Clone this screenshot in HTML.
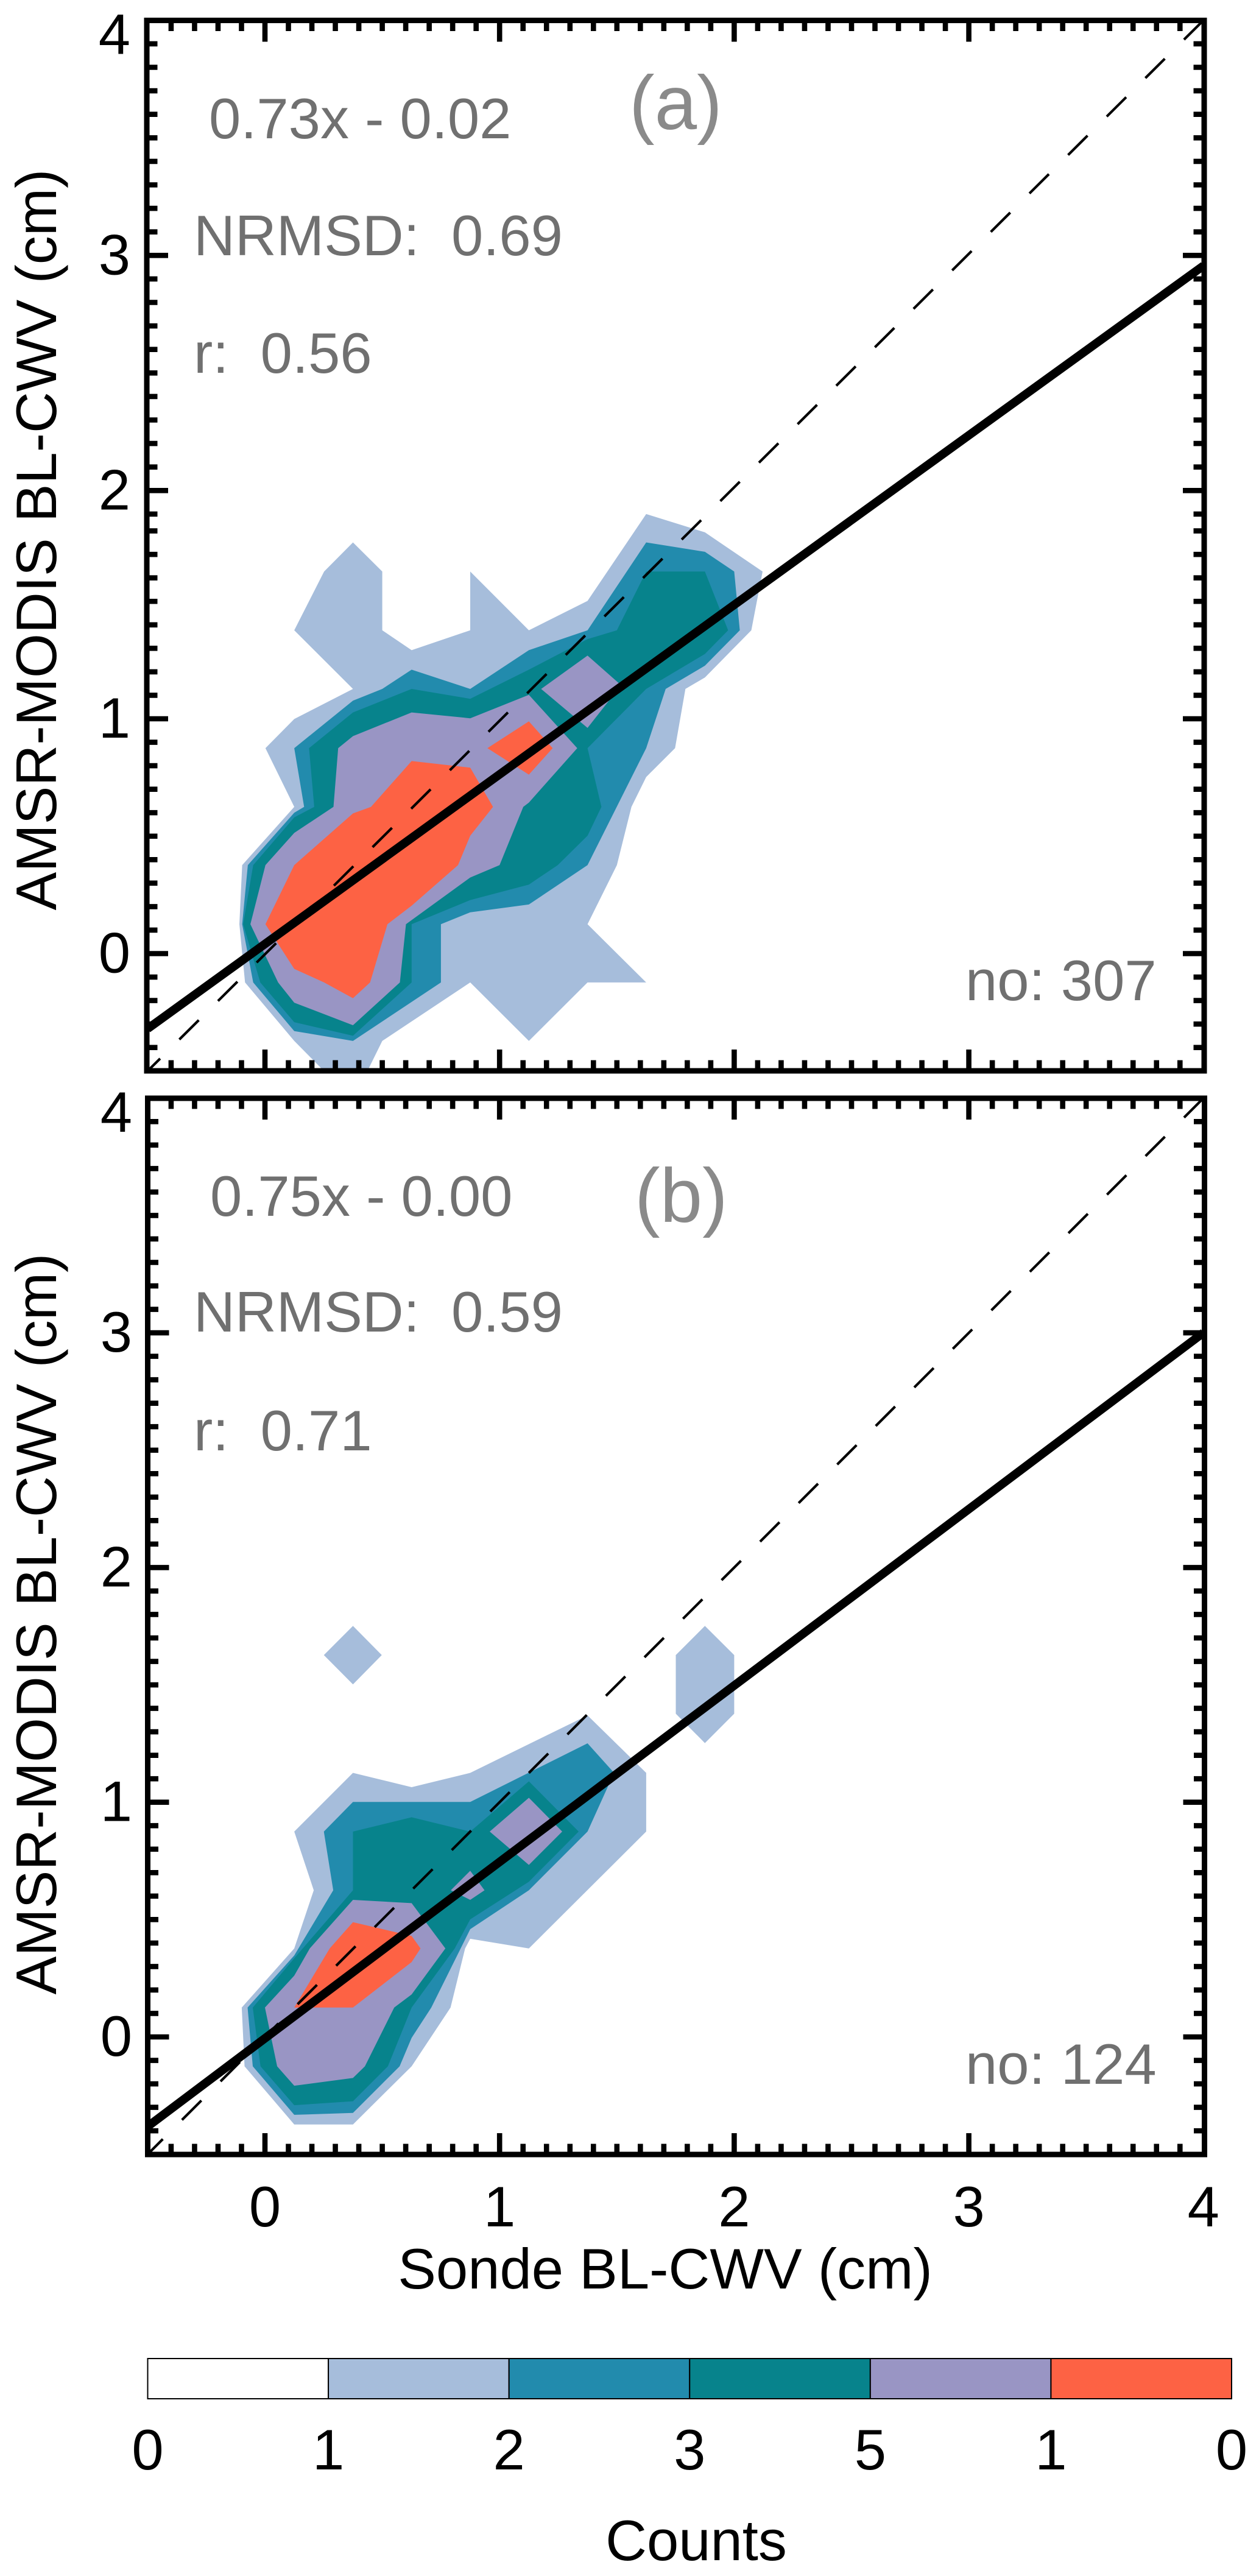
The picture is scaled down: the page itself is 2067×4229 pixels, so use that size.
<!DOCTYPE html>
<html lang="en">
<head>
<meta charset="utf-8">
<title>AMSR-MODIS vs Sonde BL-CWV</title>
<style>
html,body{margin:0;padding:0;background:#fff;}
svg{display:block;font-family:"Liberation Sans",Arial,sans-serif;}
.stat{fill:#707070;font-size:94px;white-space:pre;}
.letter{fill:#8a8a8a;font-size:125px;}
.axis-title{fill:#000;font-size:94px;}
</style>
</head>
<body>
<svg id="figure" xmlns="http://www.w3.org/2000/svg" width="2067" height="4229" viewBox="0 0 2067 4229">
  <rect x="0" y="0" width="2067" height="4229" fill="#ffffff"/>
  <defs>
    <clipPath id="clip-a"><rect x="241" y="33.5" width="1736" height="1724.5"/></clipPath>
    <clipPath id="clip-b"><rect x="242.5" y="1803" width="1735" height="1734"/></clipPath>
  </defs>
  <g id="panel-a"></g>
  <g id="panel-b"></g>

  <text class="stat" x="343" y="227">0.73x - 0.02</text>
  <text class="stat" x="318" y="419">NRMSD:  0.69</text>
  <text class="stat" x="318" y="612">r:  0.56</text>
  <text class="letter" x="1033" y="212">(a)</text>
  <text class="stat" x="1585" y="1642">no: 307</text>

  <text class="stat" x="345" y="1996">0.75x - 0.00</text>
  <text class="stat" x="318" y="2186">NRMSD:  0.59</text>
  <text class="stat" x="318" y="2381">r:  0.71</text>
  <text class="letter" x="1042" y="2006">(b)</text>
  <text class="stat" x="1585" y="3421">no: 124</text>

  <text class="axis-title" text-anchor="middle" transform="translate(92 886) rotate(-90)">AMSR-MODIS BL-CWV (cm)</text>
  <text class="axis-title" text-anchor="middle" transform="translate(92 2666) rotate(-90)">AMSR-MODIS BL-CWV (cm)</text>
  <text class="axis-title" text-anchor="middle" x="1092" y="3757">Sonde BL-CWV (cm)</text>
  <g id="colorbar"></g>
  <text class="axis-title" text-anchor="middle" x="1143" y="4203">Counts</text>
</svg>

<script>
// ---------- Data (x, y in cm of BL-CWV) ----------
const xTickLabels = ['0', '1', '2', '3', '4'];
const yTickLabels = ['0', '1', '2', '3', '4'];
const colorbarLabels = ['0', '1', '2', '3', '5', '1', '0'];
const levelColors = ['#ffffff', '#a6bddb', '#228bad', '#07838c', '#9995c4', '#fd6244'];

const fitA = [0.728, 0.044];
const fitB = [0.7516, -0.006];

const contoursA1 = [[[.375,1.751],[.5,1.627],[.5,1.377],[.625,1.292],[.875,1.377],[.875,1.627],[1.125,1.377],[1.375,1.502],[1.625,1.9],[1.875,1.794],[2.121,1.627],[2.073,1.377],[1.875,1.176],[1.792,1.127],[1.748,.875],[1.625,.752],[1.562,.625],[1.5,.377],[1.375,.125],[1.625,-.123],[1.375,-.123],[1.125,-.372],[.875,-.123],[.5,-.372],[.375,-.625],[.125,-.372],[-.085,-.123],[-.109,.125],[-.097,.377],[.125,.625],[.002,.875],[.125,.999],[.375,1.127],[.125,1.377],[.252,1.627]]];
const contoursA2 = [[[1.625,1.751],[1.875,1.711],[2,1.627],[2.024,1.377],[1.875,1.226],[1.708,1.127],[1.625,.875],[1.375,.377],[1.125,.209],[.875,.176],[.75,.125],[.75,-.123],[.375,-.372],[.125,-.33],[-.05,-.123],[-.097,.125],[-.073,.377],[.125,.6],[.167,.625],[.125,.875],[.375,1.077],[.5,1.127],[.625,1.209],[.875,1.127],[1.125,1.292],[1.375,1.377]]];
const contoursA3 = [[[1.625,1.627],[1.875,1.627],[1.974,1.377],[1.875,1.276],[1.625,1.127],[1.375,.875],[1.434,.625],[1.375,.502],[1.248,.377],[1.125,.294],[.875,.228],[.625,.125],[.625,-.123],[.375,-.35],[.125,-.292],[-.02,-.123],[-.093,.125],[-.05,.377],[.125,.58],[.21,.625],[.188,.875],[.375,1.027],[.625,1.127],[.875,1.085],[1.125,1.209],[1.375,1.339],[1.5,1.377]]];
const contoursA4 = [[[.625,1.027],[.875,1.002],[1.125,1.102],[1.331,.875],[1.125,.643],[1.101,.625],[1.0,.377],[.875,.324],[.601,.125],[.575,-.123],[.375,-.305],[.125,-.209],[.056,-.123],[-.062,.125],[.002,.377],[.125,.514],[.292,.625],[.312,.875],[.375,.926]],
  [[1.375,1.269],[1.518,1.143],[1.375,.961],[1.177,1.127]]];
const contoursA5 = [[[.625,.82],[.875,.792],[.972,.625],[.875,.502],[.823,.377],[.625,.204],[.522,.125],[.448,-.123],[.375,-.19],[.252,-.123],[.125,-.065],[.002,.125],[.125,.377],[.375,.597],[.452,.625]],
  [[1.125,.989],[1.226,.875],[1.125,.762],[.948,.875]]];

const contoursB1 = [[[.375,1.125],[.625,1.064],[.875,1.125],[1.375,1.37],[1.625,1.125],[1.625,.875],[1.125,.377],[.875,.418],[.853,.377],[.791,.125],[.625,-.125],[.375,-.373],[.125,-.373],[-.087,-.125],[-.099,.125],[.125,.377],[.208,.625],[.125,.875]],
  [[.375,1.751],[.498,1.627],[.375,1.502],[.251,1.627]],
  [[1.875,1.751],[2,1.627],[2,1.377],[1.875,1.252],[1.751,1.377],[1.751,1.627]]];
const contoursB2 = [[[.375,1.001],[.875,1.001],[1.375,1.251],[1.488,1.125],[1.375,.875],[1.125,.625],[.875,.459],[.709,.125],[.625,-.004],[.574,-.125],[.375,-.324],[.125,-.332],[-.052,-.125],[-.074,.125],[.125,.347],[.291,.625],[.251,.875]]];
const contoursB3 = [[[.375,.875],[.625,.936],[.875,.875],[1.125,1.089],[1.337,.875],[1.125,.661],[.875,.501],[.809,.377],[.625,.125],[.524,-.125],[.375,-.274],[.125,-.291],[-.019,-.125],[-.052,.125],[.125,.335],[.375,.625]]];
const contoursB4 = [[[.375,.584],[.625,.57],[.769,.377],[.625,.181],[.551,.125],[.426,-.125],[.375,-.175],[.125,-.208],[.052,-.125],[0,.125],[.125,.261],[.191,.377]],
  [[1.125,1.019],[1.267,.875],[1.125,.733],[.958,.875]],
  [[.875,.708],[.936,.625],[.875,.584],[.792,.625]]];
const contoursB5 = [[[.375,.489],[.625,.43],[.663,.377],[.625,.319],[.375,.125],[.125,.125],[.276,.377]]];

// ---------- Axis functions ----------
const NS = 'http://www.w3.org/2000/svg';
function xScale(v){ return 435 + 385.2 * v; }
function yScaleA(v){ return v >= 1.87 ? 33.3 + (4 - v) * 386 : 1565.5 - v * 385.5; }
function yScaleB(v){ return 3344 - v * 385.3; }

function make(tag, attrs, parent){
  const el = document.createElementNS(NS, tag);
  for (const k in attrs) el.setAttribute(k, attrs[k]);
  parent.appendChild(el);
  return el;
}

function drawPanel(cfg){
  const root = document.getElementById(cfg.id);
  const y = cfg.y;
  const clipped = make('g', {'clip-path': 'url(#' + cfg.clip + ')'}, root);
  
  

  cfg.levels.forEach(function(polys, li){
    polys.forEach(function(poly, pi){
      const pts = poly.map(function(p){ return xScale(p[0]).toFixed(1) + ',' + y(p[1]).toFixed(1); }).join(' ');
      const el = make('polygon', {points: pts, fill: levelColors[li + 1]}, clipped);
      
      
    });
  });

  // 1:1 dashed reference, dash phase anchored at the top-right corner
  const d = 'M' + xScale(4) + ' ' + y(4) + ' L' + xScale(-0.5) + ' ' + y(-0.5);
  const dash = make('path', {d: d, fill: 'none', stroke: '#000', 'stroke-width': 4.2, 'stroke-dasharray': '45 44.5'}, clipped);
  
  

  // regression line
  const m = cfg.fit[0], c = cfg.fit[1];
  function f(x){ return m * x + c; }
  const ld = 'M' + xScale(-0.5) + ' ' + y(f(-0.5)) + ' L' + xScale(4) + ' ' + y(f(4));
  const fitLine = make('path', {d: ld, fill: 'none', stroke: '#000', 'stroke-width': 14}, clipped);
  
  

  // ticks on all four sides
  const ticks = make('g', {stroke: '#000', 'stroke-width': 8.6, fill: 'none'}, root);
  
  
  const F = cfg.frame;
  const inset = 4.5;
  for (let k = -4; k < 40; k++) {
    const v = k / 10;
    const major = k % 10 === 0;
    const len = inset + (major ? 30.5 : 13);
    const px = xScale(v);
    const tb = make('path', {d: 'M' + px + ' ' + F.b + ' V' + (F.b - len) + ' M' + px + ' ' + F.t + ' V' + (F.t + len)}, ticks);
    
    
    const py = y(v);
    const lr = make('path', {d: 'M' + F.l + ' ' + py + ' H' + (F.l + len) + ' M' + F.r + ' ' + py + ' H' + (F.r - len)}, ticks);
    
    
  }

  const frame = make('rect', {x: F.l, y: F.t, width: F.r - F.l, height: F.b - F.t, fill: 'none', stroke: '#000', 'stroke-width': 9}, root);
  
  

  // y tick labels; the top label is pushed below the frame corner
  yTickLabels.forEach(function(label){
    const v = Number(label);
    const base = Math.max(y(v) + 31, F.t + 55);
    const t = make('text', {x: cfg.labelX, y: base.toFixed(1), 'text-anchor': 'end', 'font-size': 94, fill: '#000'}, root);
    t.textContent = label;
    
    
  });
}

drawPanel({
  id: 'panel-a', key: 'a', clip: 'clip-a', y: yScaleA, fit: fitA, labelX: 214,
  frame: {l: 241, r: 1977, t: 33.5, b: 1758},
  levels: [contoursA1, contoursA2, contoursA3, contoursA4, contoursA5]
});
drawPanel({
  id: 'panel-b', key: 'b', clip: 'clip-b', y: yScaleB, fit: fitB, labelX: 217,
  frame: {l: 242.5, r: 1977.5, t: 1803, b: 3537},
  levels: [contoursB1, contoursB2, contoursB3, contoursB4, contoursB5]
});

// x tick labels under the bottom panel
const panelB = document.getElementById('panel-b');
xTickLabels.forEach(function(label){
  const t = make('text', {x: xScale(Number(label)), y: 3655, 'text-anchor': 'middle', 'font-size': 94, fill: '#000'}, panelB);
  t.textContent = label;
  
  
});

// colorbar
const cb = document.getElementById('colorbar');
function cbX(i){ return 242.5 + i * (2022 - 242.5) / levelColors.length; }
levelColors.forEach(function(color, i){
  const r = make('rect', {x: cbX(i), y: 3872, width: cbX(i + 1) - cbX(i), height: 66, fill: color, stroke: '#000', 'stroke-width': 2}, cb);
  
  
});
colorbarLabels.forEach(function(label, i){
  const t = make('text', {x: cbX(i), y: 4054, 'text-anchor': 'middle', 'font-size': 94, fill: '#000'}, cb);
  t.textContent = label;
  
  
});
</script>
</body>
</html>
